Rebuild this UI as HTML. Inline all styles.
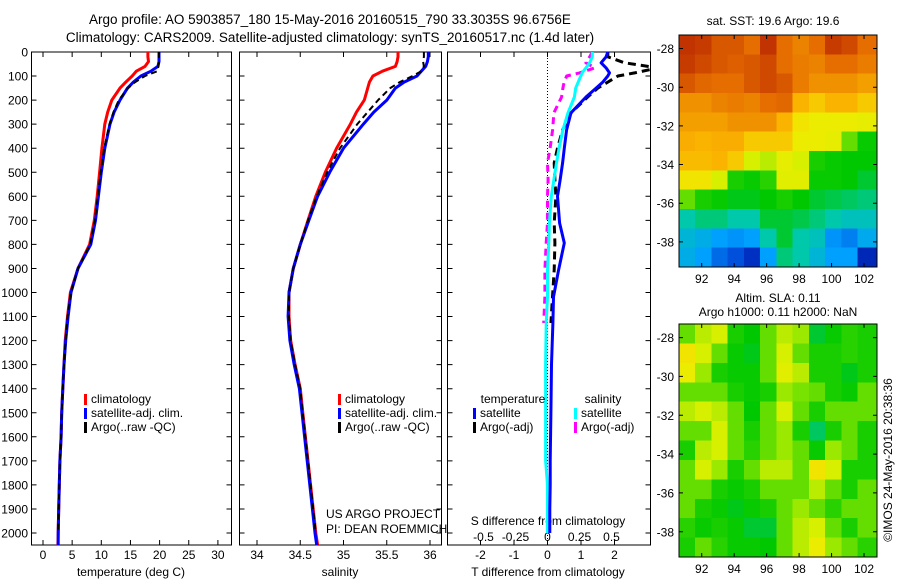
<!DOCTYPE html>
<html><head><meta charset="utf-8"><style>
body{margin:0;background:#fff;}
svg{display:block;font-family:"Liberation Sans",sans-serif;}
text{fill:#000;}
</style></head><body>
<svg id="c" width="900" height="580" viewBox="0 0 900 580">
<text x="330" y="24" font-size="13.5" text-anchor="middle">Argo profile: AO 5903857_180 15-May-2016 20160515_790 33.3035S 96.6756E</text>
<text x="330" y="42" font-size="13.5" text-anchor="middle">Climatology: CARS2009. Satellite-adjusted climatology: synTS_20160517.nc (1.4d later)</text>
<text x="773" y="25" font-size="12" text-anchor="middle">sat. SST: 19.6 Argo: 19.6</text>
<text x="778" y="302" font-size="12" text-anchor="middle">Altim. SLA: 0.11</text>
<text x="778" y="316" font-size="12" text-anchor="middle">Argo h1000: 0.11 h2000: NaN</text>
<text transform="translate(892,460) rotate(-90)" font-size="12" text-anchor="middle">©IMOS 24-May-2016 20:38:36</text>
<text x="326" y="518" font-size="12">US ARGO PROJECT</text>
<text x="326" y="533" font-size="12">PI: DEAN ROEMMICH</text>
</svg>
<script>
// ---- data ----
const depths=[0,20,40,60,80,100,125,150,200,250,300,400,500,600,700,800,900,1000,1100,1200,1300,1400,1500,1600,1700,1800,1900,2000,2050];
const tempClim=[18.0,18.0,18.1,17.5,16.0,15.3,14.2,13.2,11.8,11.1,10.6,10.1,9.7,9.3,8.8,8.0,6.0,4.7,4.2,3.8,3.6,3.4,3.2,3.1,2.9,2.8,2.7,2.6,2.55];
const tempSat=[19.9,19.9,19.9,19.7,18.5,16.8,15.5,14.5,13.2,12.2,11.5,10.6,10.0,9.5,9.0,8.2,6.0,4.8,4.3,3.9,3.6,3.4,3.2,3.1,2.9,2.8,2.7,2.6,2.6];
const tempArgo=[19.9,19.9,19.9,19.8,19.6,17.5,15.8,14.6,13.0,12.1,11.4,10.5,9.9,9.4,8.9,8.1,6.0,4.8,4.2,3.9,3.6,3.4,3.2,3.1,2.9,2.8,2.7,2.6,null];
const salClim=[35.63,35.63,35.62,35.6,35.45,35.34,35.3,35.28,35.24,35.15,35.08,34.92,34.79,34.68,34.59,34.5,34.42,34.37,34.37,34.39,34.44,34.5,34.53,34.56,34.59,34.62,34.65,34.68,34.7];
const salSat=[35.98,35.98,35.97,35.95,35.9,35.85,35.7,35.6,35.5,35.35,35.23,35.0,34.84,34.7,34.6,34.5,34.42,34.37,34.36,34.38,34.43,34.49,34.52,34.55,34.58,34.61,34.64,34.67,34.69];
const salArgo=[35.93,35.93,35.92,35.93,35.9,35.8,35.65,35.54,35.4,35.28,35.16,34.96,34.81,34.69,34.59,34.5,34.42,34.37,34.37,34.39,34.44,34.5,34.53,34.56,34.59,34.62,34.65,34.68,null];
const diffDepths=[0,20,45,66,87,100,125,150,187,253,324,400,461,530,600,711,794,906,1018,1127,1300,1500,1700,1800,1900,2000];
const tDiffSat=[1.8,1.75,1.6,1.75,1.85,1.8,1.65,1.45,1.15,0.7,0.57,0.5,0.45,0.38,0.3,0.36,0.5,0.33,0.18,0.16,0.12,0.1,0.08,0.08,0.07,0.07];
const tDiffArgo=[1.8,1.8,2.3,3.3,2.6,2.1,1.8,1.5,1.2,0.7,0.45,0.3,0.2,0.22,0.25,0.2,0.22,0.2,0.15,0.1];
const sDiffSat=[0.35,0.35,0.33,0.3,0.27,0.26,0.24,0.22,0.21,0.16,0.12,0.09,0.07,0.05,0.03,0.015,0.01,0.0,0.0,-0.01,-0.015,-0.015,-0.015,0,0,0];
const sDiffArgo=[0.35,0.33,0.3,0.37,0.25,0.15,0.13,0.12,0.11,0.05,0.04,0.02,0.0,0.005,0.0,0.0,-0.01,-0.02,-0.02,-0.03];
const depthTicks=[0,100,200,300,400,500,600,700,800,900,1000,1100,1200,1300,1400,1500,1600,1700,1800,1900,2000];
const tempTicks=[0,5,10,15,20,25,30];
const salTicks=[34,34.5,35,35.5,36];
const tDiffTicks=[-2,-1,0,1,2];
const sDiffTicks=["-0.5","-0.25","0","0.25","0.5"];
const mapLons=[91.1,92.1,93.1,94.1,95.1,96.1,97.1,98.1,99.1,100.1,101.1,102.1];
const mapLats=[-27.8,-28.8,-29.8,-30.8,-31.8,-32.8,-33.8,-34.8,-35.8,-36.8,-37.8,-38.8];
const lonTicks=[92,94,96,98,100,102];
const latTicks=[-28,-30,-32,-34,-36,-38];
const sstGrid=[
[0.93,0.92,0.88,0.88,0.85,0.93,0.85,0.82,0.85,0.92,0.90,0.85],
[0.92,0.90,0.88,0.87,0.88,0.90,0.85,0.83,0.82,0.85,0.85,0.83],
[0.88,0.86,0.85,0.85,0.88,0.90,0.88,0.83,0.80,0.80,0.80,0.78],
[0.80,0.80,0.82,0.83,0.82,0.85,0.86,0.75,0.72,0.75,0.75,0.72],
[0.78,0.78,0.78,0.80,0.80,0.80,0.75,0.68,0.66,0.66,0.66,0.65],
[0.76,0.75,0.76,0.76,0.72,0.72,0.72,0.66,0.66,0.65,0.55,0.48],
[0.74,0.74,0.75,0.72,0.62,0.60,0.65,0.62,0.50,0.48,0.47,0.47],
[0.68,0.68,0.62,0.50,0.48,0.52,0.64,0.64,0.48,0.48,0.47,0.45],
[0.55,0.50,0.48,0.46,0.46,0.47,0.50,0.47,0.45,0.44,0.43,0.42],
[0.40,0.42,0.42,0.40,0.40,0.45,0.45,0.44,0.42,0.40,0.38,0.38],
[0.35,0.33,0.30,0.28,0.30,0.40,0.45,0.40,0.38,0.28,0.25,0.32],
[0.33,0.30,0.22,0.18,0.12,0.30,0.42,0.40,0.35,0.30,0.30,0.10]];
const slaGrid=[
[0.55,0.60,0.62,0.50,0.47,0.55,0.60,0.58,0.45,0.48,0.52,0.50],
[0.68,0.62,0.55,0.48,0.46,0.55,0.62,0.55,0.50,0.50,0.52,0.50],
[0.66,0.58,0.50,0.48,0.48,0.55,0.64,0.60,0.50,0.50,0.46,0.50],
[0.55,0.55,0.55,0.50,0.48,0.50,0.58,0.56,0.55,0.50,0.48,0.55],
[0.60,0.62,0.60,0.55,0.47,0.55,0.62,0.55,0.50,0.55,0.55,0.55],
[0.55,0.55,0.62,0.55,0.50,0.55,0.58,0.50,0.43,0.50,0.55,0.50],
[0.50,0.60,0.62,0.55,0.52,0.55,0.58,0.55,0.48,0.58,0.55,0.50],
[0.55,0.62,0.58,0.50,0.55,0.60,0.60,0.55,0.68,0.62,0.50,0.50],
[0.55,0.55,0.50,0.48,0.50,0.55,0.55,0.55,0.60,0.55,0.50,0.55],
[0.55,0.50,0.48,0.46,0.48,0.50,0.55,0.58,0.55,0.52,0.55,0.55],
[0.52,0.48,0.50,0.48,0.45,0.45,0.55,0.60,0.62,0.55,0.50,0.55],
[0.50,0.55,0.52,0.48,0.48,0.47,0.55,0.60,0.66,0.58,0.55,0.52]];

const NS='http://www.w3.org/2000/svg';
const svg=document.getElementById('c');
function mk(tag,attrs,parent){const e=document.createElementNS(NS,tag);for(const k in attrs)e.setAttribute(k,attrs[k]);(parent||svg).appendChild(e);return e;}
const yD=d=>52+d*0.2405;
const xT=t=>43+t*5.83;
const xS=s=>257+(s-34)*86.5;
const xTd=t=>547.5+t*33.5;
const xSd=s=>547.5+s*128;

function panel(name,x0,x1){
  const r=mk('rect',{x:x0,y:52,width:x1-x0,height:493,fill:'none',stroke:'#000','stroke-width':1});
  
  
  depthTicks.forEach(d=>{
    const t=mk('path',{d:`M${x0} ${yD(d)}h5M${x1} ${yD(d)}h-5`,stroke:'#000','stroke-width':1});
    
    
  });
}
panel('temperature-panel-frame',31.5,231.5);
panel('salinity-panel-frame',239.5,441.5);
panel('difference-panel-frame',447.5,650.5);
depthTicks.forEach(d=>{
  const t=mk('text',{x:28,y:yD(d)+4.5,'font-size':12,'text-anchor':'end'});
  t.textContent=d;
  
  
});
function xticks(vals,labels,fx,yLab,nameLab,top,bottom){
  vals.forEach((v,i)=>{
    const x=fx(v);
    const p=mk('path',{d:(top?`M${x} 52v5`:'')+(bottom?`M${x} 545v-5`:''),stroke:'#000','stroke-width':1});
    
    
    const t=mk('text',{x:x,y:yLab,'font-size':12,'text-anchor':'middle'});
    t.textContent=labels[i];
    
    
  });
}
xticks(tempTicks,tempTicks,xT,559,'temperature-tick-label',true,true);
xticks(salTicks,salTicks,xS,559,'salinity-tick-label',true,true);
xticks(tDiffTicks,tDiffTicks,xTd,559,'t-difference-tick-label',true,true);
sDiffTicks.forEach(s=>{
  const t=mk('text',{x:xSd(parseFloat(s)),y:541,'font-size':12,'text-anchor':'middle'});
  t.textContent=s;
  
  
});
function label(txt,x,y,name){const t=mk('text',{x:x,y:y,'font-size':12,'text-anchor':'middle'});t.textContent=txt;}
label('temperature (deg C)',131,576,'temperature-axis-title');
label('salinity',340,576,'salinity-axis-title');
label('T difference from climatology',548,576,'t-difference-axis-title');
label('S difference from climatology',548,525,'s-difference-axis-title');
const z=mk('line',{x1:xTd(0),x2:xTd(0),y1:52,y2:545,stroke:'#000','stroke-width':1,'stroke-dasharray':'1,2'});



const clip=mk('clipPath',{id:'cp3'});mk('rect',{x:448,y:52,width:202,height:493},clip);
function series(name,ds,vals,fx,color,width,dash,clipId){
  let d='';let pen=false;
  vals.forEach((v,i)=>{if(v===null||v===undefined){pen=false;return;}d+=(pen?'L':'M')+fx(v).toFixed(1)+' '+yD(ds[i]).toFixed(1);pen=true;});
  const a={d:d,fill:'none',stroke:color,'stroke-width':width,'stroke-linejoin':'round'};
  if(dash)a['stroke-dasharray']=dash;
  if(clipId)a['clip-path']=`url(#${clipId})`;
  const p=mk('path',a);
  
  
}
series('temp-climatology-line',depths,tempClim,xT,'#f00',3);
series('temp-satellite-line',depths,tempSat,xT,'#00f',3);
series('temp-argo-line',depths,tempArgo,xT,'#000',2,'6,4');
series('sal-climatology-line',depths,salClim,xS,'#f00',3);
series('sal-satellite-line',depths,salSat,xS,'#00f',3);
series('sal-argo-line',depths,salArgo,xS,'#000',2,'6,4');
series('s-diff-argo-line',diffDepths,sDiffArgo,xSd,'#f0f',3,'7,5','cp3');
series('t-diff-argo-line',diffDepths,tDiffArgo,xTd,'#000',3,'8,5','cp3');
series('s-diff-satellite-line',diffDepths,sDiffSat,xSd,'#0ff',3,null,'cp3');
series('t-diff-satellite-line',diffDepths,tDiffSat,xTd,'#00f',3,null,'cp3');

function legend(x,y,color,txt,name){
  const r=mk('rect',{x:x,y:y-9,width:3,height:11,fill:color});
  
  
  const t=mk('text',{x:x+7,y:y,'font-size':12});t.textContent=txt;
  
  
}
[[31+53,'temp'],[239+99,'sal']].forEach(([x,p])=>{
  legend(x,403,'#f00','climatology',p+'-legend-climatology');
  legend(x,417,'#00f','satellite-adj. clim.',p+'-legend-satellite');
  legend(x,431,'#000','Argo(..raw -QC)',p+'-legend-argo');
});
label('temperature',513,403,'legend-temperature-heading');
label('salinity',603,403,'legend-salinity-heading');
legend(473,417,'#00f','satellite','diff-legend-t-satellite');
legend(473,431,'#000','Argo(-adj)','diff-legend-t-argo');
legend(574,417,'#0ff','satellite','diff-legend-s-satellite');
legend(574,431,'#f0f','Argo(-adj)','diff-legend-s-argo');

const stops=[[0,[0,0,130]],[0.15,[0,60,210]],[0.3,[0,160,255]],[0.4,[0,200,170]],[0.47,[0,200,0]],[0.52,[40,210,0]],[0.57,[140,230,0]],[0.62,[215,240,0]],[0.67,[240,235,0]],[0.75,[250,180,0]],[0.85,[230,110,0]],[1,[160,0,0]]];
function cmap(v){v=Math.max(0,Math.min(1,v));for(let i=1;i<stops.length;i++){if(v<=stops[i][0]){const [a,ca]=stops[i-1],[b,cb]=stops[i];const f=(v-a)/(b-a);return 'rgb('+ca.map((c,k)=>Math.round(c+(cb[k]-c)*f)).join(',')+')';}}return 'rgb(160,0,0)';}

function map(name,grid,x0,x1,yTop,yBot,lonL,lonR,latT,latB){
  const fx=l=>x0+(l-lonL)/(lonR-lonL)*(x1-x0);
  const fy=l=>yTop+(l-latT)/(latB-latT)*(yBot-yTop);
  const cid=name+'-clip';const c=mk('clipPath',{id:cid});mk('rect',{x:x0,y:yTop,width:x1-x0,height:yBot-yTop},c);
  const g=mk('g',{'clip-path':`url(#${cid})`,'shape-rendering':'crispEdges'});
  
  
  grid.forEach((row,i)=>row.forEach((v,j)=>{
    const xa=fx(mapLons[j]-0.5)-(j===0?20:0),xb=fx(mapLons[j]+0.5)+(j===row.length-1?20:0);
    const ya=fy(mapLats[i]+0.5)-(i===0?20:0),yb=fy(mapLats[i]-0.5)+(i===grid.length-1?20:0);
    const r=mk('rect',{x:xa,y:ya,width:xb-xa+0.5,height:yb-ya+0.5,fill:cmap(v)},g);
    
    
  }));
  const f=mk('rect',{x:x0,y:yTop,width:x1-x0,height:yBot-yTop,fill:'none',stroke:'#000','stroke-width':1});
  
  
  lonTicks.forEach(l=>{
    const x=fx(l);
    const p=mk('path',{d:`M${x} ${yTop}v4M${x} ${yBot}v-4`,stroke:'#000'});
    
    
    const t=mk('text',{x:x,y:yBot+16,'font-size':12,'text-anchor':'middle'});t.textContent=l;
    
    
  });
  latTicks.forEach(l=>{
    const y=fy(l);
    const p=mk('path',{d:`M${x0} ${y}h4M${x1} ${y}h-4`,stroke:'#000'});
    
    
    const t=mk('text',{x:x0-5,y:y+4.5,'font-size':12,'text-anchor':'end'});t.textContent=l;
    
    
  });
}
map('sst-map',sstGrid,679,877,35,267,90.6,102.8,-27.3,-39.3);
map('sla-map',slaGrid,679,877,324,557,90.6,102.8,-27.3,-39.3);
</script>
</body></html>
